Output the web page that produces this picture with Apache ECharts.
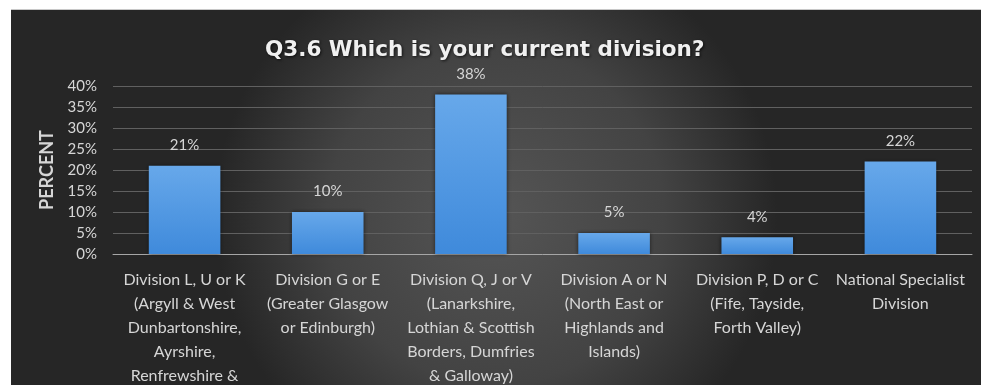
<!DOCTYPE html>
<html>
<head>
<meta charset="utf-8">
<title>Q3.6 Which is your current division?</title>
<script src="https://cdn.jsdelivr.net/npm/echarts@6/dist/echarts.min.js"></script>
<style>
  html, body { margin: 0; padding: 0; background: #ffffff; overflow: hidden; }
  #chart { position: absolute; left: 11px; top: 9px; width: 970px; height: 376px; border-top: 1px solid #c8c8c8; box-sizing: border-box; }
</style>
</head>
<body>
<div id="chart"></div>
<script>
// Survey question and answer categories (line breaks as printed under each bar)
const chartTitle = 'Q3.6 Which is your current division?';
const categories = [
  'Division L, U or K\n(Argyll & West\nDunbartonshire,\nAyrshire,\nRenfrewshire &\nInverclyde)',
  'Division G or E\n(Greater Glasgow\nor Edinburgh)',
  'Division Q, J or V\n(Lanarkshire,\nLothian & Scottish\nBorders, Dumfries\n& Galloway)',
  'Division A or N\n(North East or\nHighlands and\nIslands)',
  'Division P, D or C\n(Fife, Tayside,\nForth Valley)',
  'National Specialist\nDivision'
];
// Share of respondents in each division, percent
const percentValues = [21, 10, 38, 5, 4, 22];
// Value axis ticks
const yMin = 0;
const yMax = 40;
const yStep = 5;

const chart = echarts.init(document.getElementById('chart'));

const labelFont = 'Lato, "Open Sans", sans-serif';
const lightText = '#d6d6d6';

chart.setOption({
  backgroundColor: {
    type: 'radial', x: 0.5, y: 0.55, r: 0.75,
    colorStops: [
      { offset: 0, color: '#555555' },
      { offset: 0.6, color: '#434343' },
      { offset: 1, color: '#262626' }
    ]
  },
  title: {
    text: chartTitle,
    left: 249,
    top: 24,
    textStyle: {
      fontFamily: '"DejaVu Sans", sans-serif',
      fontWeight: 'bold',
      fontSize: 21.5,
      color: '#f0f0f0',
      textShadowColor: 'rgba(0,0,0,0.7)',
      textShadowBlur: 3,
      textShadowOffsetX: 1,
      textShadowOffsetY: 1
    }
  },
  grid: { left: 102, right: 9, top: 76, bottom: 131, containLabel: false, outerBoundsMode: 'none' },
  xAxis: {
    type: 'category',
    data: categories,
    axisLine: { show: true, lineStyle: { color: '#a6a6a6', width: 1 } },
    axisTick: { show: false },
    axisLabel: {
      interval: 0,
      margin: 14,
      color: lightText,
      fontFamily: labelFont,
      fontSize: 16,
      lineHeight: 24,
      align: 'center'
    }
  },
  yAxis: {
    type: 'value',
    min: yMin,
    max: yMax,
    interval: yStep,
    name: 'PERCENT',
    nameLocation: 'middle',
    nameRotate: 90,
    nameGap: 56,
    nameTextStyle: {
      color: lightText,
      fontFamily: labelFont,
      fontWeight: 'bold',
      fontSize: 18
    },
    axisLine: { show: false },
    axisTick: { show: false },
    axisLabel: {
      formatter: '{value}%',
      margin: 16,
      color: lightText,
      fontFamily: labelFont,
      fontSize: 15
    },
    splitLine: { lineStyle: { color: '#606060', width: 1 } }
  },
  series: [{
    type: 'bar',
    data: percentValues,
    barWidth: '50%',
    itemStyle: {
      color: {
        type: 'linear', x: 0, y: 0, x2: 0, y2: 1,
        colorStops: [
          { offset: 0, color: '#67a8ea' },
          { offset: 1, color: '#3f8adb' }
        ]
      },
      shadowColor: 'rgba(0,0,0,0.55)',
      shadowBlur: 4
    },
    label: {
      show: true,
      position: 'top',
      distance: 13,
      formatter: '{c}%',
      color: lightText,
      fontFamily: labelFont,
      fontSize: 15
    }
  }]
});
</script>
</body>
</html>
